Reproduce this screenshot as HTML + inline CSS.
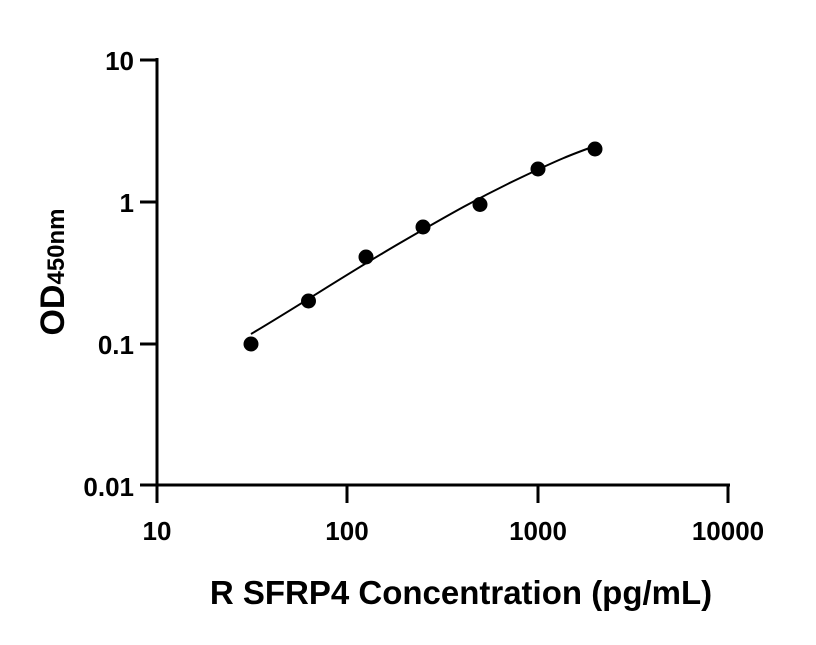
<!DOCTYPE html>
<html><head><style>body{margin:0;background:#fff}</style></head><body>
<svg width="816" height="640" xmlns="http://www.w3.org/2000/svg" font-family="Liberation Sans, sans-serif" font-weight="bold">
<g stroke="#000" stroke-width="3" fill="none">
<line x1="157" y1="58" x2="157" y2="503"/>
<line x1="140" y1="485" x2="730" y2="485"/>
<line x1="140" y1="60" x2="157" y2="60"/>
<line x1="140" y1="202" x2="157" y2="202"/>
<line x1="140" y1="344" x2="157" y2="344"/>
<line x1="347" y1="485" x2="347" y2="503"/>
<line x1="538" y1="485" x2="538" y2="503"/>
<line x1="728" y1="485" x2="728" y2="503"/>
<path stroke-width="2" d="M251,334 C300,305 350,272 400,243 S480,197 520,178 S570,155 595,146"/>
</g>
<g fill="#000">
<circle cx="251" cy="344" r="7.5"/><circle cx="308.5" cy="301" r="7.5"/><circle cx="366" cy="257" r="7.5"/>
<circle cx="423" cy="227" r="7.5"/><circle cx="480" cy="204.5" r="7.5"/><circle cx="538" cy="169" r="7.5"/><circle cx="595" cy="149" r="7.5"/>
</g>
<g font-size="26" text-anchor="end">
<text x="134" y="70">10</text><text x="134" y="212">1</text><text x="134" y="354">0.1</text><text x="134" y="496">0.01</text>
</g>
<g font-size="26" text-anchor="middle">
<text x="157" y="540">10</text><text x="347" y="540">100</text><text x="538" y="540">1000</text><text x="728" y="540">10000</text>
</g>
<text x="461" y="604" font-size="33" text-anchor="middle">R SFRP4 Concentration (pg/mL)</text>
<text transform="translate(64,272) rotate(-90)" font-size="34" text-anchor="middle">OD<tspan font-size="24">450nm</tspan></text>
</svg>
</body></html>
